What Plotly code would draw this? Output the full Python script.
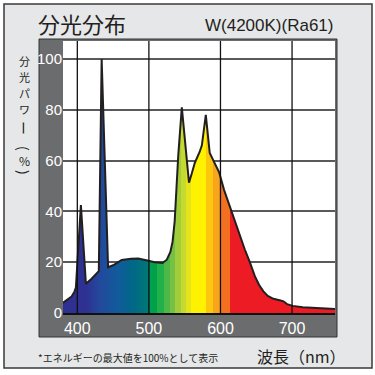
import plotly.graph_objects as go

# ---- data ----
WAVELENGTH = [380, 386, 392, 396, 398, 405, 412, 420, 428, 430, 434, 443, 450, 462, 475, 485,
              498, 508, 519, 525, 530, 533, 536, 538, 541, 546, 551, 556, 560, 564, 571, 574,
              579.5, 582, 585, 591, 598, 605, 613, 620, 627, 634, 641, 648, 654, 660, 666,
              674, 684, 688, 693, 701, 715, 730, 745, 760]
POWER = [4.0, 5.3, 6.5, 8.4, 10.0, 42.5, 11.5, 13.5, 15.7, 16.5, 100.0, 18.0, 18.8, 20.9, 21.4, 21.5,
         20.7, 20.0, 19.7, 21.0, 24.0, 28.0, 36.0, 48.0, 62.0, 81.0, 66.0, 51.3, 55.0, 59.0, 63.5, 66.0,
         78.0, 72.0, 63.0, 59.5, 55.5, 48.5, 42.0, 36.0, 30.0, 25.0, 20.0, 14.5, 11.0, 8.5, 6.7,
         5.6, 4.9, 4.6, 3.5, 2.8, 2.3, 2.0, 1.8, 1.6]

X_TICKS = [400, 500, 600, 700]
Y_TICKS = [0, 20, 40, 60, 80, 100]
X_RANGE = [380, 760]
Y_RANGE = [0, 107.1]

# spectrum colour stops: (wavelength, colour); repeated wavelength = hard edge
SPECTRUM = [
    (380, "#2e3192"), (412, "#2e3192"), (430, "#24479b"), (455, "#125a9c"),
    (478, "#006887"), (501, "#007a73"),
    (501, "#00a14b"), (512, "#00a14b"), (512, "#22b04a"), (521, "#22b04a"),
    (521, "#4db848"), (529, "#4db848"), (529, "#76c043"), (537, "#76c043"),
    (537, "#a2cd3a"), (545, "#a2cd3a"), (545, "#c5d92e"), (552, "#c5d92e"),
    (552, "#e3e41c"), (559, "#e3e41c"), (559, "#fff200"), (580, "#fff200"),
    (580, "#fdc70f"), (590, "#fdc70f"), (590, "#f9a51b"), (599, "#f9a51b"),
    (599, "#f37021"), (613, "#f37021"), (613, "#ed1c24"), (760, "#ed1c24"),
]

W, H = 375, 375
L, R, T, B = 63, 40, 41, 62
PW, PH = W - L - R, H - T - B


def px(x):
    return (x - L) / PW


def py(y):
    return (H - B - y) / PH


span = X_RANGE[1] - X_RANGE[0]
scale = [[(wl - X_RANGE[0]) / span, c] for wl, c in SPECTRUM]

fig = go.Figure()
fig.add_trace(go.Scatter(
    x=WAVELENGTH, y=POWER, mode="lines",
    line=dict(color="#231f20", width=2),
    fill="tozeroy",
    fillgradient=dict(type="horizontal", colorscale=scale,
                      start=X_RANGE[0], stop=X_RANGE[1]),
    hoverinfo="skip", showlegend=False,
))

# vertical grid lines drawn above the fill
vx, vy = [], []
for t in X_TICKS:
    vx += [t, t, None]
    vy += [Y_RANGE[0], Y_RANGE[1], None]
fig.add_trace(go.Scatter(x=vx, y=vy, mode="lines",
                         line=dict(color="#111111", width=1.3),
                         hoverinfo="skip", showlegend=False))

shapes = [
    dict(type="rect", xref="paper", yref="paper", layer="below",
         x0=px(4), x1=px(372), y0=py(368), y1=py(4),
         fillcolor="#e6e7e8", line=dict(color="#3a3a3a", width=1.5)),
    dict(type="rect", xref="paper", yref="paper", layer="below",
         x0=px(39), x1=px(337), y0=py(337), y1=py(39),
         fillcolor="#6b6c6e", line=dict(color="#333333", width=1)),
    dict(type="rect", xref="paper", yref="paper", layer="below",
         x0=0, x1=1, y0=0, y1=1, fillcolor="white", line=dict(width=0)),
]

CJK = "Noto Sans CJK JP"
ann = [
    dict(text="分光分布", x=px(36), y=py(23), xanchor="left", yanchor="middle",
         font=dict(family=CJK, size=22, color="#231f20")),
    dict(text="W(4200K)(Ra61)", x=px(336), y=py(26), xanchor="right", yanchor="middle",
         font=dict(family="Liberation Sans", size=17, color="#231f20")),
    dict(text="*エネルギーの最大値を100%として表示", x=px(36), y=py(357),
         xanchor="left", yanchor="middle",
         font=dict(family=CJK, size=10, color="#231f20")),
    dict(text="波長（nm）", x=px(255), y=py(356), xanchor="left", yanchor="middle",
         font=dict(family=CJK, size=16, color="#231f20")),
]
# vertical axis title pieces: (char, centre y px, rotation, font size)
vchars = [("分", 61, 0, 11), ("光", 77, 0, 11), ("パ", 93, 0, 11), ("ワ", 109, 0, 11),
          ("ー", 128, 90, 14), ("(", 148, 90, 14), ("%", 160, 0, 12), (")", 172, 90, 14)]
for ch, yy, rot, fs in vchars:
    ann.append(dict(text=ch, x=px(24), y=py(yy), xanchor="center", yanchor="middle",
                    textangle=rot, borderpad=0,
                    font=dict(family=CJK, size=fs, color="#231f20")))
for a in ann:
    a.update(xref="paper", yref="paper", showarrow=False)

fig.update_layout(
    width=W, height=H, autosize=False,
    margin=dict(l=L, r=R, t=T, b=B, pad=0),
    paper_bgcolor="white", plot_bgcolor="white",
    shapes=shapes, annotations=ann, showlegend=False,
    xaxis=dict(range=X_RANGE, tickvals=X_TICKS, ticktext=[str(t) for t in X_TICKS],
               showgrid=False, zeroline=False, showline=True, linecolor="#111111",
               linewidth=2, ticks="", fixedrange=True,
               tickfont=dict(family="Liberation Sans", size=16, color="white")),
    yaxis=dict(range=Y_RANGE, tickvals=Y_TICKS, ticktext=[str(t) for t in Y_TICKS],
               showgrid=True, gridcolor="#58595b", gridwidth=2, zeroline=False,
               showline=False, ticks="", fixedrange=True,
               tickfont=dict(family="Liberation Sans", size=15, color="white")),
)

fig.write_html("out.html", config={"displayModeBar": False},
               post_script="document.body.style.margin='0';document.body.style.overflow='hidden';")
